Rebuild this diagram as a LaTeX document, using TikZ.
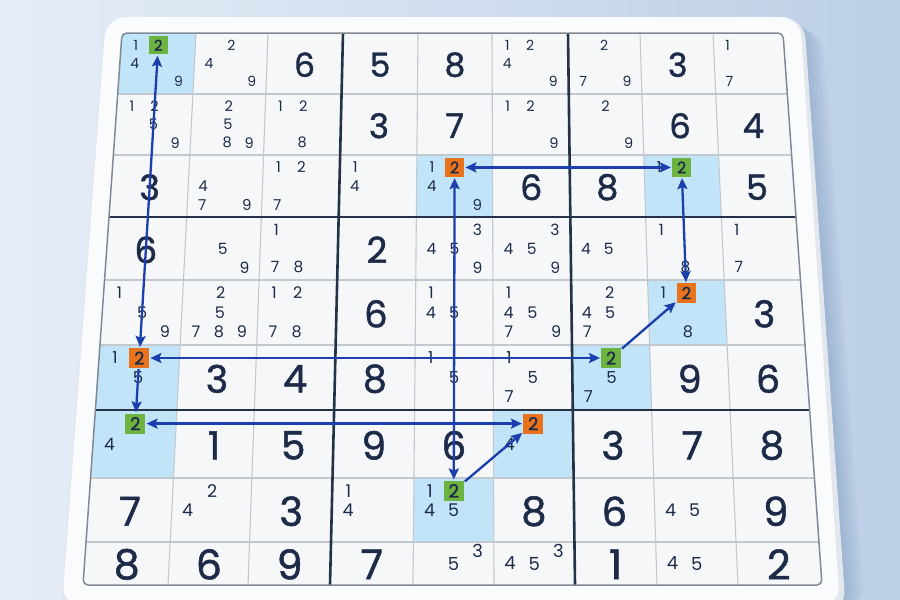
\documentclass[tikz,border=0pt]{standalone}
\usepackage{fontspec}
\setmainfont{Poppins}
\newfontfamily\heavyf{Poppins}[FakeBold=1.3]
\usetikzlibrary{arrows.meta}
\definecolor{bgL}{HTML}{E5EDF7}
\definecolor{bgR}{HTML}{BCCFE6}
\definecolor{shadowc}{HTML}{5F80AD}
\definecolor{boardside}{HTML}{E2E7ED}
\definecolor{boardtop}{HTML}{FAFBFC}
\definecolor{gridfill}{HTML}{F6F7F9}
\definecolor{cellblue}{HTML}{C2E4F8}
\definecolor{thinc}{HTML}{C2C8CF}
\definecolor{thickc}{HTML}{243247}
\definecolor{borderc}{HTML}{808A96}
\definecolor{textdark}{HTML}{1D2B48}
\definecolor{hlgreen}{HTML}{6DB33F}
\definecolor{hlorange}{HTML}{E8731C}
\definecolor{arrowblue}{HTML}{1C3FAE}
\newcommand\cellxy[4]{%
  \pgfmathtruncatemacro\cia{#1-1}%
  \pgfmathtruncatemacro\cja{#2-1}%
  \pgfmathsetmacro\cyA{{33,94,155,217,280,345,410,478,542,585}[\cia]}%
  \pgfmathsetmacro\cyB{{33,94,155,217,280,345,410,478,542,585}[#1]}%
  \pgfmathsetmacro\cpy{\cyA+(#4)*(\cyB-\cyA)}%
  \pgfmathsetmacro\ctl{{122,196,268,343,418,492,568,640,713,783}[\cja]}%
  \pgfmathsetmacro\cbl{{83,168,248,330,413,494,575,657,738,822}[\cja]}%
  \pgfmathsetmacro\ctr{{122,196,268,343,418,492,568,640,713,783}[#2]}%
  \pgfmathsetmacro\cbr{{83,168,248,330,413,494,575,657,738,822}[#2]}%
  \pgfmathsetmacro\ctt{(\cpy-33)/552}%
  \pgfmathsetmacro\cxl{\ctl+(\cbl-\ctl)*\ctt}%
  \pgfmathsetmacro\cxr{\ctr+(\cbr-\ctr)*\ctt}%
  \pgfmathsetmacro\cpx{\cxl+(#3)*(\cxr-\cxl)}%
}
\newcommand\bigd[3]{%
  \cellxy{#1}{#2}{0.5}{0.52}%
  \pgfmathsetmacro\fsz{33+(#1-1)}%
  \node[bigdigit, font=\heavyf\fontsize{\fsz}{\fsz}\selectfont] (b-#1-#2) at (\cpx,\cpy) {#3};}
\newcommand\cands[3]{%
  \foreach \dd in {#3}{%
    \pgfmathtruncatemacro\dcol{mod(\dd-1,3)}%
    \pgfmathtruncatemacro\drow{int((\dd-1)/3)}%
    \cellxy{#1}{#2}{0.2+0.3*\dcol}{0.2+0.3*\drow}%
    \pgfmathsetmacro\fsz{14+0.5*(#1-1)}%
    \node[cand, font=\fontsize{\fsz}{\fsz}\selectfont] (c-#1-#2-\dd) at (\cpx,\cpy) {\dd};}}
\newcommand\hlcand[4]{%
  \cellxy{#1}{#2}{0.5}{0.2}%
  \pgfmathsetmacro\fsz{15+0.5*(#1-1)}%
  \pgfmathsetmacro\bsz{18.5+0.25*(#1-1)}%
  \node[hlbox, fill=#3, minimum width=\bsz, minimum height=\bsz, font=\heavyf\fontsize{\fsz}{\fsz}\selectfont] (#4) at (\cpx,\cpy) {2};}
\newcommand\cellfill[2]{%
  \cellxy{#1}{#2}{0}{0}\let\qax\cpx\let\qay\cpy
  \cellxy{#1}{#2}{1}{0}\let\qbx\cpx\let\qby\cpy
  \cellxy{#1}{#2}{1}{1}\let\qcx\cpx\let\qcy\cpy
  \cellxy{#1}{#2}{0}{1}\let\qdx\cpx\let\qdy\cpy
  \fill[cellblue] (\qax,\qay) -- (\qbx,\qby) -- (\qcx,\qcy) -- (\qdx,\qdy) -- cycle;}
\begin{document}
\begin{tikzpicture}[x=1pt,y=-1pt,
  bigdigit/.style={inner sep=0pt, text=textdark},
  cand/.style={inner sep=0pt, text=textdark},
  hlbox/.style={inner sep=0pt, text=textdark, draw=none},
  thinl/.style={draw=thinc, line width=1.1pt},
  thickl/.style={draw=thickc, line width=2.6pt},
  link/.style={draw=arrowblue, line width=2.3pt, shorten <=1pt, shorten >=1pt},
  >={Stealth[length=11pt,width=10pt,inset=2pt]}]
\useasboundingbox (0,0) rectangle (900,600);
% background
\shade[left color=bgL, right color=bgR] (0,0) rectangle (900,600);
% shadow of the board
\foreach \k in {1,...,8}{
  \fill[shadowc, opacity=0.045, rounded corners=24pt]
    ({105+2*\k},{17+1.5*\k}) -- ({803+2.5*\k},{17+1.5*\k}) -- ({845+2.5*\k},{612}) -- ({60+2*\k},{612}) -- cycle;}
% board
\fill[boardside, rounded corners=22pt] (105,17) -- (804,17) -- (846,612) -- (60,612) -- cycle;
\fill[boardtop, rounded corners=20pt] (106,17) -- (800,17) -- (840,606) -- (62,606) -- cycle;
% grid
\fill[gridfill, rounded corners=5pt] (122,33) -- (783,33) -- (822,585) -- (83,585) -- cycle;
\cellfill{1}{1}\cellfill{3}{5}\cellfill{3}{8}\cellfill{5}{8}\cellfill{6}{1}
\cellfill{6}{7}\cellfill{7}{1}\cellfill{7}{6}\cellfill{8}{5}
\foreach \xt/\xb in {196/168,268/248,418/413,492/494,640/657,713/738}
  \draw[thinl] (\xt,33) -- (\xb,585);
\foreach \yy in {94,155,280,345,478,542}
  \draw[thinl] ({122-(\yy-33)/552*39},\yy) -- ({783+(\yy-33)/552*39},\yy);
\foreach \xt/\xb in {343/330,568/575}
  \draw[thickl] (\xt,33) -- (\xb,585);
\foreach \yy in {217,410}
  \draw[thickl] ({122-(\yy-33)/552*39},\yy) -- ({783+(\yy-33)/552*39},\yy);
\draw[draw=borderc, line width=1.5pt, rounded corners=5pt] (122,33) -- (783,33) -- (822,585) -- (83,585) -- cycle;
% row 1
\cands{1}{1}{1,4,9}\cands{1}{2}{2,4,9}\bigd{1}{3}{6}\bigd{1}{4}{5}\bigd{1}{5}{8}
\cands{1}{6}{1,2,4,9}\cands{1}{7}{2,7,9}\bigd{1}{8}{3}\cands{1}{9}{1,7}
% row 2
\cands{2}{1}{1,2,5,9}\cands{2}{2}{2,5,8,9}\cands{2}{3}{1,2,8}\bigd{2}{4}{3}\bigd{2}{5}{7}
\cands{2}{6}{1,2,9}\cands{2}{7}{2,9}\bigd{2}{8}{6}\bigd{2}{9}{4}
% row 3
\bigd{3}{1}{3}\cands{3}{2}{4,7,9}\cands{3}{3}{1,2,7}\cands{3}{4}{1,4}\cands{3}{5}{1,4,9}
\bigd{3}{6}{6}\bigd{3}{7}{8}\cands{3}{8}{1}\bigd{3}{9}{5}
% row 4
\bigd{4}{1}{6}\cands{4}{2}{5,9}\cands{4}{3}{1,7,8}\bigd{4}{4}{2}\cands{4}{5}{3,4,5,9}
\cands{4}{6}{3,4,5,9}\cands{4}{7}{4,5}\cands{4}{8}{1,8}\cands{4}{9}{1,7}
% row 5
\cands{5}{1}{1,5,9}\cands{5}{2}{2,5,7,8,9}\cands{5}{3}{1,2,7,8}\bigd{5}{4}{6}\cands{5}{5}{1,4,5}
\cands{5}{6}{1,4,5,7,9}\cands{5}{7}{2,4,5,7}\cands{5}{8}{1,8}\bigd{5}{9}{3}
% row 6
\cands{6}{1}{1,5}\bigd{6}{2}{3}\bigd{6}{3}{4}\bigd{6}{4}{8}\cands{6}{5}{1,5}
\cands{6}{6}{1,5,7}\cands{6}{7}{5,7}\bigd{6}{8}{9}\bigd{6}{9}{6}
% row 7
\cands{7}{1}{4}\bigd{7}{2}{1}\bigd{7}{3}{5}\bigd{7}{4}{9}\bigd{7}{5}{6}
\cands{7}{6}{4}\bigd{7}{7}{3}\bigd{7}{8}{7}\bigd{7}{9}{8}
% row 8
\bigd{8}{1}{7}\cands{8}{2}{2,4}\bigd{8}{3}{3}\cands{8}{4}{1,4}\cands{8}{5}{1,4,5}
\bigd{8}{6}{8}\bigd{8}{7}{6}\cands{8}{8}{4,5}\bigd{8}{9}{9}
% row 9
\bigd{9}{1}{8}\bigd{9}{2}{6}\bigd{9}{3}{9}\bigd{9}{4}{7}\cands{9}{5}{3,5}
\cands{9}{6}{3,4,5}\bigd{9}{7}{1}\cands{9}{8}{4,5}\bigd{9}{9}{2}
% highlighted candidates
\hlcand{1}{1}{hlgreen}{h11}
\hlcand{3}{5}{hlorange}{h35}
\hlcand{3}{8}{hlgreen}{h38}
\hlcand{5}{8}{hlorange}{h58}
\hlcand{6}{1}{hlorange}{h61}
\hlcand{6}{7}{hlgreen}{h67}
\hlcand{7}{1}{hlgreen}{h71}
\hlcand{7}{6}{hlorange}{h76}
\hlcand{8}{5}{hlgreen}{h85}
% links
\draw[link,<->] (h61) -- (h11);
\draw[link,->] (h61) -- (h71);
\draw[link,<->] (h61) -- (h67);
\draw[link,->] (h67) -- (h58);
\draw[link,<->] (h58) -- (h38);
\draw[link,<->] (h38) -- (h35);
\draw[link,<->] (h35) -- (h85);
\draw[link,->] (h85) -- (h76);
\draw[link,<->] (h76) -- (h71);
\end{tikzpicture}
\end{document}
